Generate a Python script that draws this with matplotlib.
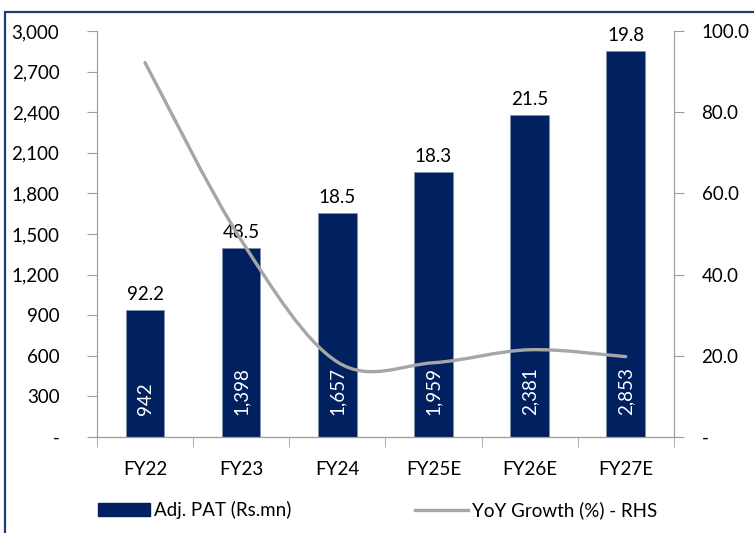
import matplotlib
matplotlib.use("Agg")
import matplotlib.pyplot as plt
from matplotlib.path import Path
from matplotlib.patches import PathPatch, Rectangle
from matplotlib.lines import Line2D
from matplotlib.ticker import FuncFormatter
import numpy as np

plt.rcParams['font.family'] = ['Lato', 'DejaVu Sans']

# data
anos = ["FY22", "FY23", "FY24", "FY25E", "FY26E", "FY27E"]
pat = [942, 1398, 1657, 1959, 2381, 2853]
crescimento = [92.2, 48.5, 18.5, 18.3, 21.5, 19.8]

azul = "#002060"
cinza = "#A6A6A6"
eixo = "#A0A0A0"
fs = 13.5

fig = plt.figure(figsize=(7.54, 5.33), dpi=100)
ax = fig.add_axes([0.1286, 0.180, 0.765, 0.762])
ax2 = ax.twinx()

x = np.arange(len(anos))
ax.bar(x, pat, width=0.4, color=azul, edgecolor="#7F8FB0", linewidth=0.5, zorder=2)
ax.set_xlim(-0.5, len(anos) - 0.5)
ax.set_ylim(0, 3000)
ax.set_yticks(range(0, 3001, 300))
ax.yaxis.set_major_formatter(FuncFormatter(lambda v, p: "-" if v == 0 else f"{v:,.0f}"))
ax.set_xticks(x)
ax.set_xticklabels(anos)
ax.set_xticks(np.arange(-0.5, len(anos)), minor=True)
ax.tick_params(axis="x", which="major", length=0, pad=17, labelsize=fs)
ax.tick_params(axis="x", which="minor", length=7, color=eixo)
ax.tick_params(axis="y", length=7, color=eixo, pad=20, labelsize=fs)
# linha do eixo x um pouco além dos eixos, estilo Excel
ax.add_line(Line2D([-0.014, 1.009], [0, 0], transform=ax.transAxes, color=eixo,
                   linewidth=0.8, clip_on=False))

# valores dentro das barras
for xi, v in zip(x, pat):
    ax.text(xi, 160, f"{v:,}", rotation=90, ha="center", va="bottom",
            color="white", fontsize=fs, zorder=5)
# crescimento acima das barras
for xi, v, g in zip(x, pat, crescimento):
    ax.text(xi, v + 50, f"{g}", ha="center", va="bottom", fontsize=fs, color="black")

# linha suavizada (bezier estilo Excel)
ax2.set_ylim(0, 100)
ax2.set_yticks(range(0, 101, 20))
ax2.yaxis.set_major_formatter(FuncFormatter(lambda v, p: "-" if v == 0 else f"{v:.1f}"))
ax2.tick_params(axis="y", length=7, color=eixo, pad=13, labelsize=fs)
pts = np.column_stack([x, crescimento]).astype(float)
verts = [pts[0]]
codes = [Path.MOVETO]
n = len(pts)
for i in range(n - 1):
    p0 = pts[max(i - 1, 0)]
    p1 = pts[i]
    p2 = pts[i + 1]
    p3 = pts[min(i + 2, n - 1)]
    c1 = p1 + (p2 - p0) / 6
    c2 = p2 - (p3 - p1) / 6
    verts += [c1, c2, p2]
    codes += [Path.CURVE4] * 3
ax2.add_patch(PathPatch(Path(verts, codes), facecolor="none", edgecolor=cinza,
                        linewidth=2.4, capstyle="round", zorder=3))
ax2.set_zorder(ax.get_zorder() + 1)
ax2.patch.set_visible(False)

for a in (ax, ax2):
    a.spines["top"].set_visible(False)
    a.spines["left"].set_color(eixo)
    a.spines["right"].set_color(eixo)
    a.spines["bottom"].set_color(eixo)

# legenda
handles = [Rectangle((0, 0), 1, 1, color=azul),
           Line2D([0], [0], color=cinza, linewidth=2.4)]
fig.legend(handles, ["Adj. PAT (Rs.mn)", "YoY Growth (%) - RHS"], loc="center left",
           bbox_to_anchor=(81 / 754, 0.043), ncol=2, frameon=False, fontsize=fs,
           handlelength=2.8, handletextpad=0.2, columnspacing=6.6)

# moldura
fig.patches.append(Rectangle((5 / 754, -0.1), 1.1, 1.1 - 12 / 533, transform=fig.transFigure,
                             fill=False, edgecolor="#1F3B7A", linewidth=1.6))

fig.savefig("out.png", dpi=100)
